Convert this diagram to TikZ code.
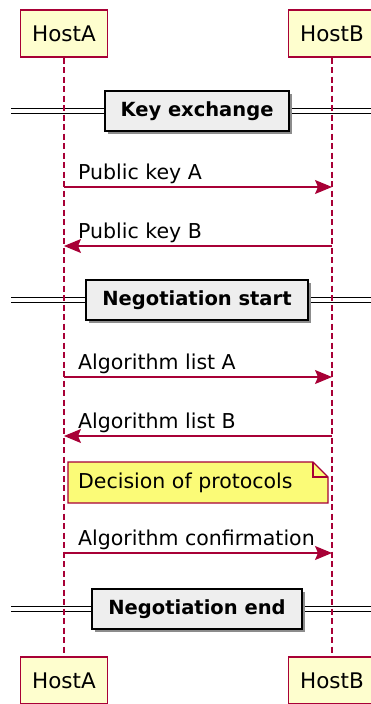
\documentclass[tikz,border=0pt]{standalone}
\usepackage{fontspec}
\setmainfont{DejaVu Sans}
\usepackage{xcolor}
\usetikzlibrary{arrows.meta,positioning,calc,shadows}

\definecolor{umlred}{HTML}{A80036}
\definecolor{umlbeige}{HTML}{FEFECE}
\definecolor{umlnote}{HTML}{FBFB77}
\definecolor{umlgray}{HTML}{EEEEEE}

\begin{document}
\begin{tikzpicture}[x=1pt,y=-1pt,
    host/.style={draw=umlred, fill=umlbeige, line width=1.2pt, minimum width=87pt,
        minimum height=47pt, inner sep=0pt, font=\fontsize{21.5}{24}\selectfont},
    lifeline/.style={draw=umlred, line width=1.2pt, dash pattern=on 6pt off 3.5pt},
    msg/.style={draw=umlred, line width=1.2pt,
        -{Stealth[length=17pt,width=14pt,inset=3pt]}},
    msglabel/.style={anchor=base west, inner sep=0pt, font=\fontsize{20.5}{24}\selectfont},
    sepline/.style={double, double distance=3.7pt, line width=1.3pt},
    divider/.style={draw, line width=2pt, fill=umlgray, minimum height=40pt,
        inner xsep=16pt, font=\bfseries\fontsize{19.5}{22}\selectfont,
        drop shadow={shadow xshift=3pt, shadow yshift=-3pt, fill=black!45, opacity=1}},
    notebox/.style={draw=umlred, fill=umlnote, line width=1.2pt}
]
    \useasboundingbox (0,0) rectangle (371,704);
    \clip (0,0) rectangle (371,704);

    % Separator lines
    \foreach \n/\y in {1/111,2/300,3/609} {
        \coordinate (s\n l) at (11,\y);
        \coordinate (s\n r) at (390,\y);
        \draw[sepline] (s\n l) -- (s\n r);
    }

    % Participants
    \node[host] (hostA) at (64,33.5) {HostA};
    \node[host] (hostB) at (332,33.5) {HostB};
    \node[host] (hostAb) at (64,680.5) {HostA};
    \node[host] (hostBb) at (332,680.5) {HostB};

    % Lifelines
    \draw[lifeline] (hostA.south) -- (hostAb.north);
    \draw[lifeline] (hostB.south) -- (hostBb.north);

    % Dividers
    \node[divider] (kex) at (197,111) {Key exchange};
    \node[divider] (negs) at (197,300) {Negotiation start};
    \node[divider] (nege) at (197,609) {Negotiation end};

    % Message ends on the lifelines
    \foreach \n/\y in {1/187,2/246,3/377,4/436,5/553} {
        \coordinate (a\n) at (64,\y);
        \coordinate (b\n) at (332,\y);
    }

    % Messages
    \draw[msg] (a1) -- (b1);
    \node[msglabel] (m1) at ($(a1)+(14,-8)$) {Public key A};
    \draw[msg] (b2) -- (a2);
    \node[msglabel] (m2) at ($(a2)+(14,-8)$) {Public key B};
    \draw[msg] (a3) -- (b3);
    \node[msglabel] (m3) at ($(a3)+(14,-8)$) {Algorithm list A};
    \draw[msg] (b4) -- (a4);
    \node[msglabel] (m4) at ($(a4)+(14,-8)$) {Algorithm list B};

    % Note
    \filldraw[notebox] (68,462) -- (313,462) -- (328,477) -- (328,503) -- (68,503) -- cycle;
    \draw[notebox, fill=none] (313,462) -- (313,477) -- (328,477);
    \node[anchor=west, inner sep=0pt, font=\fontsize{20.5}{24}\selectfont] (note) at (78,482.5) {Decision of protocols};

    \draw[msg] (a5) -- (b5);
    \node[msglabel] (m5) at ($(a5)+(14,-8)$) {Algorithm confirmation};
\end{tikzpicture}
\end{document}
